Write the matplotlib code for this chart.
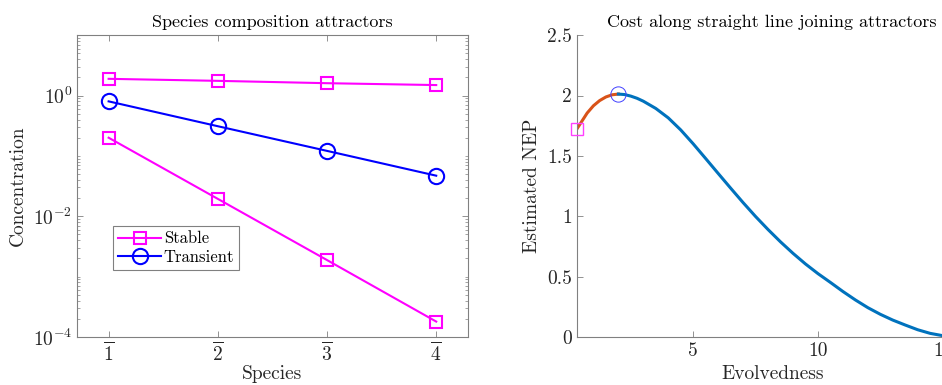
import matplotlib
matplotlib.use("Agg")
import matplotlib.pyplot as plt
from matplotlib.ticker import LogLocator, NullFormatter, FixedLocator

plt.rcParams['font.family'] = 'serif'
plt.rcParams['font.serif'] = ['cmr10']
plt.rcParams['mathtext.fontset'] = 'cm'
plt.rcParams['axes.unicode_minus'] = False
plt.rcParams['axes.formatter.use_mathtext'] = True

# Species composition of the two attractors
species = [1, 2, 3, 4]
species_labels = [r'$\overline{1}$', r'$\overline{2}$', r'$\overline{3}$', r'$\overline{4}$']
stable_high = [1.89, 1.75, 1.60, 1.49]
stable_low = [0.20, 0.0194, 0.00188, 0.00018]
transient = [0.80, 0.31, 0.121, 0.047]

# Estimated NEP along the straight line joining the attractors
evolvedness = [0.33, 0.5, 0.75, 1.0, 1.25, 1.5, 1.75, 2.0, 2.25, 2.5, 2.75, 3.0,
               3.5, 4.0, 4.5, 5.0, 5.5, 6.0, 6.5, 7.0, 7.5, 8.0, 8.5, 9.0, 9.5,
               10.0, 10.5, 11.0, 11.5, 12.0, 12.5, 13.0, 13.5, 14.0, 14.5, 15.0,
               15.5, 16.0]
nep = [1.72, 1.775, 1.855, 1.915, 1.958, 1.988, 2.006, 2.012, 2.008, 1.995, 1.977,
       1.953, 1.893, 1.815, 1.715, 1.600, 1.478, 1.355, 1.233, 1.113, 0.998, 0.890,
       0.788, 0.693, 0.605, 0.525, 0.452, 0.377, 0.307, 0.243, 0.188, 0.140, 0.099,
       0.060, 0.030, 0.011, 0.002, 0.0]
peak_index = 7

axcol = '#262626'
spinecol = '#808080'

fig = plt.figure(figsize=(9.42, 3.85), dpi=100)

# ---------- left panel ----------
ax1 = fig.add_axes([0.0817, 0.1247, 0.415, 0.784])
ax1.set_yscale('log')
ax1.plot(species, stable_high, '-s', color='#FF00FF', lw=1.5, ms=9,
         mfc='none', mew=1.5, label='Stable')
ax1.plot(species, stable_low, '-s', color='#FF00FF', lw=1.5, ms=9,
         mfc='none', mew=1.5)
ax1.plot(species, transient, '-o', color='#0000FF', lw=1.5, ms=11,
         mfc='none', mew=1.5, label='Transient')
ax1.set_xlim(0.71, 4.29)
ax1.set_ylim(1e-4, 1e1)
ax1.set_xticks(species)
ax1.set_xticklabels(species_labels)
ax1.yaxis.set_major_locator(FixedLocator([1e-4, 1e-2, 1e0]))
ax1.yaxis.set_minor_locator(LogLocator(base=10, subs=range(1, 10), numticks=20))
ax1.yaxis.set_minor_formatter(NullFormatter())
ax1.tick_params(which='both', direction='in', top=True, right=True, color=spinecol,
                labelcolor=axcol, labelsize=14)
ax1.tick_params(axis='x', pad=3)
ax1.tick_params(which='major', length=4, width=0.6)
ax1.tick_params(which='minor', length=2, width=0.5)
for s in ax1.spines.values():
    s.set_color(spinecol)
    s.set_linewidth(0.8)
ax1.set_title('Species composition attractors', fontsize=13, color='black', pad=6)
ax1.set_xlabel('Species', fontsize=14, color=axcol, labelpad=0)
ax1.set_ylabel('Concentration', fontsize=14, color=axcol)
leg = ax1.legend(loc='lower left', bbox_to_anchor=(0.092, 0.222), fontsize=12,
                 frameon=True, fancybox=False, edgecolor=spinecol, framealpha=1,
                 handlelength=2.6, borderpad=0.3, labelspacing=0.2,
                 handletextpad=0.15, borderaxespad=0)
leg.get_frame().set_linewidth(0.8)

# ---------- right panel ----------
ax2 = fig.add_axes([0.6122, 0.1247, 0.415, 0.784])
ax2.plot(evolvedness[:peak_index + 1], nep[:peak_index + 1], color='#D95319', lw=2.2)
ax2.plot(evolvedness[peak_index:], nep[peak_index:], color='#0072BD', lw=2.2)
ax2.plot(evolvedness[0], nep[0], 's', color='#FF00FF', ms=8, mfc='none', mew=1.0,
         mec='#FF40FF', clip_on=False, zorder=10)
ax2.plot(evolvedness[peak_index], nep[peak_index], 'o', color='#0000FF', ms=11,
         mfc='none', mew=0.7, mec='#4040FF', clip_on=False, zorder=10)
ax2.set_xlim(0.33, 16)
ax2.set_ylim(0, 2.5)
ax2.set_xticks([5, 10, 15])
ax2.set_xticklabels(['5', '10', '15'])
ax2.set_yticks([0, 0.5, 1, 1.5, 2, 2.5])
ax2.set_yticklabels(['0', '0.5', '1', '1.5', '2', '2.5'])
ax2.tick_params(direction='in', color=spinecol, labelcolor=axcol, labelsize=14,
                length=4, width=0.6)
ax2.spines['top'].set_visible(False)
ax2.spines['right'].set_visible(False)
for s in ('left', 'bottom'):
    ax2.spines[s].set_color(spinecol)
    ax2.spines[s].set_linewidth(0.8)
ax2.set_title('Cost along straight line joining attractors', fontsize=13,
              color='black', pad=6)
ax2.set_xlabel('Evolvedness', fontsize=14, color=axcol)
ax2.set_ylabel('Estimated NEP', fontsize=14, color=axcol)

fig.savefig('out.png', dpi=100)
